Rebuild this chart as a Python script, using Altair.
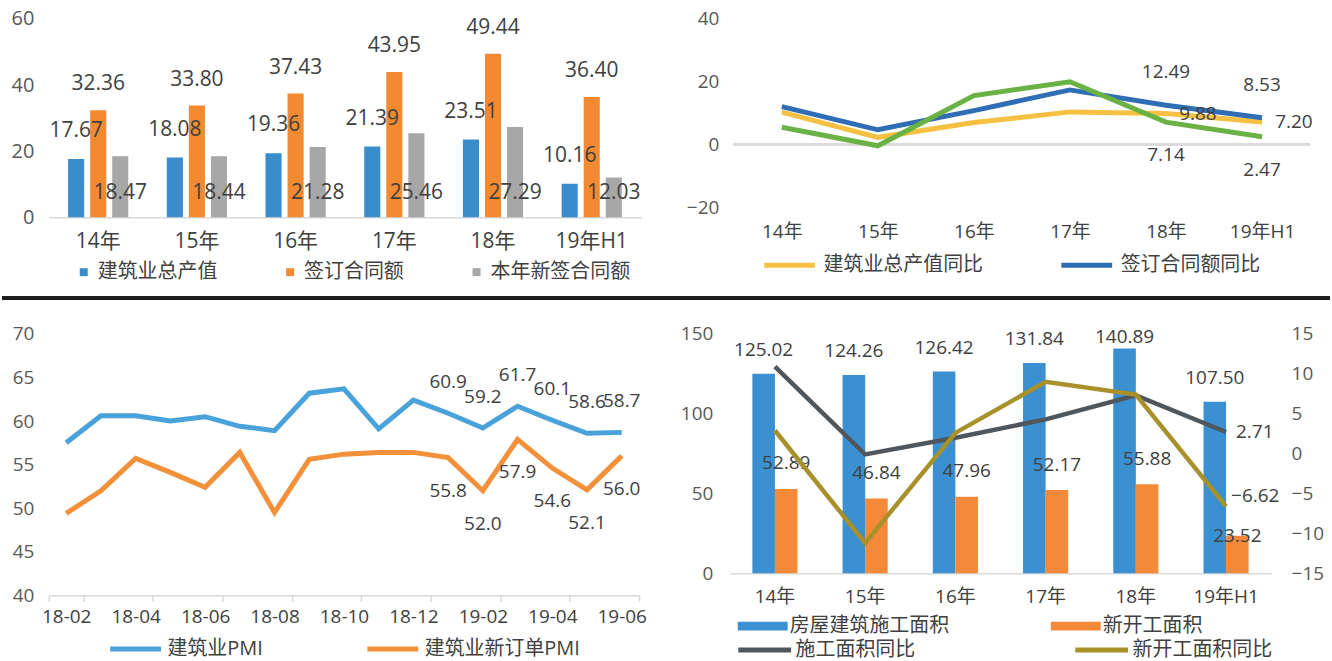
import altair as alt
import pandas as pd

FONT = "Open Sans, Noto Sans CJK SC, sans-serif"
TXT = "#404040"
AXC = "#595959"
LINEC = "#D9D9D9"

# ---------------- data ----------------
years = ["14年", "15年", "16年", "17年", "18年", "19年H1"]

# top-left: bars (万亿元)
tl_series = ["建筑业总产值", "签订合同额", "本年新签合同额"]
tl_colors = ["#3A8DCB", "#F28A32", "#A7A7A7"]
gross_output = [17.67, 18.08, 19.36, 21.39, 23.51, 10.16]
contract_amount = [32.36, 33.80, 37.43, 43.95, 49.44, 36.40]
new_contract_amount = [18.47, 18.44, 21.28, 25.46, 27.29, 12.03]

# top-right: yoy lines (%)
tr_series = ["建筑业总产值同比", "签订合同额同比", "本年新签合同额同比"]
tr_colors = ["#F6C143", "#2F6EB5", "#6AB245"]
gross_output_yoy = [10.3, 2.3, 7.0, 10.4, 9.88, 7.20]
contract_yoy = [12.1, 4.7, 10.8, 17.4, 12.49, 8.53]
new_contract_yoy = [5.5, -0.4, 15.6, 20.0, 7.14, 2.47]

# bottom-left: PMI
months = ["18-02", "18-03", "18-04", "18-05", "18-06", "18-07", "18-08", "18-09",
          "18-10", "18-11", "18-12", "19-01", "19-02", "19-03", "19-04", "19-05", "19-06"]
bl_series = ["建筑业PMI", "建筑业新订单PMI"]
bl_colors = ["#4AA2DA", "#F3903A"]
construction_pmi = [57.5, 60.6, 60.6, 60.0, 60.5, 59.4, 58.9, 63.2, 63.7, 59.1, 62.4,
                    60.9, 59.2, 61.7, 60.1, 58.6, 58.7]
new_order_pmi = [49.4, 52.0, 55.7, 54.1, 52.4, 56.4, 49.5, 55.6, 56.2, 56.4, 56.4,
                 55.8, 52.0, 57.9, 54.6, 52.1, 56.0]
bl_labeled = months[11:]

# bottom-right: floor area (亿平方米) and yoy (%)
br_bar_series = ["房屋建筑施工面积", "新开工面积"]
br_bar_colors = ["#3A90D0", "#F5893A"]
construction_area = [125.02, 124.26, 126.42, 131.84, 140.89, 107.50]
new_start_area = [52.89, 46.84, 47.96, 52.17, 55.88, 23.52]
br_line_series = ["施工面积同比", "新开工面积同比"]
br_line_colors = ["#50575C", "#A8912B"]
construction_area_yoy = [10.9, -0.1, 2.0, 4.3, 7.3, 2.71]
new_start_area_yoy = [2.9, -11.2, 2.6, 9.0, 7.4, -6.62]

labeled_years = ["18年", "19年H1"]


def long_df(cats, cat_name, series, values):
    rows = []
    for s, vals in zip(series, values):
        for c, v in zip(cats, vals):
            rows.append({cat_name: c, "series": s, "value": v})
    return pd.DataFrame(rows)


tl_df = long_df(years, "year", tl_series, [gross_output, contract_amount, new_contract_amount])
tr_df = long_df(years, "year", tr_series, [gross_output_yoy, contract_yoy, new_contract_yoy])
bl_df = long_df(months, "month", bl_series, [construction_pmi, new_order_pmi])
br_bar_df = long_df(years, "year", br_bar_series, [construction_area, new_start_area])
br_line_df = long_df(years, "year", br_line_series, [construction_area_yoy, new_start_area_yoy])

# ---------------- top-left ----------------
tl_x = alt.X("year:N", sort=years,
             scale=alt.Scale(domain=years, paddingInner=0.39, paddingOuter=0.195),
             axis=alt.Axis(title=None, labelAngle=0, ticks=False, domainColor=LINEC,
                           domainWidth=1.5, labelPadding=13, labelFontSize=21,
                           labelColor=TXT))
tl_xo = alt.XOffset("series:N", scale=alt.Scale(domain=tl_series, paddingInner=0.27,
                                                paddingOuter=0))
tl_yscale = alt.Scale(domain=[0, 60], nice=False)
tl_yaxis = alt.Axis(title=None, values=[0, 20, 40, 60], grid=False, domain=False,
                    ticks=False, labelPadding=15, minExtent=47, maxExtent=47,
                    labelFontSize=20, labelColor=AXC)
tl_y = alt.Y("value:Q", scale=tl_yscale, axis=tl_yaxis)

tl_base = alt.Chart(tl_df)
tl_bars = tl_base.mark_bar().encode(
    x=tl_x, xOffset=tl_xo, y=tl_y,
    color=alt.Color("series:N", scale=alt.Scale(domain=tl_series, range=tl_colors),
                    legend=alt.Legend(title=None, orient="none", legendX=25, legendY=244,
                                      direction="horizontal", symbolType="square",
                                      symbolSize=64, symbolStrokeWidth=0,
                                      labelFontSize=20, labelColor=TXT, labelOffset=4,
                                      columnPadding=63, padding=0)))
tl_text = alt.Text("value:Q", format=".2f")
tl_lab0 = tl_base.transform_filter(alt.datum.series == tl_series[0]).mark_text(
    dy=-28, fontSize=21, color=TXT).encode(x=tl_x, xOffset=tl_xo, y=tl_y, text=tl_text)
tl_lab1 = tl_base.transform_filter(alt.datum.series == tl_series[1]).mark_text(
    dy=-26, fontSize=21, color=TXT).encode(x=tl_x, xOffset=tl_xo, y=tl_y, text=tl_text)
tl_lab2 = tl_base.transform_filter(alt.datum.series == tl_series[2]).transform_calculate(
    label_y="7.5").mark_text(fontSize=21, color=TXT).encode(
    x=tl_x, xOffset=tl_xo, y=alt.Y("label_y:Q", scale=tl_yscale, axis=tl_yaxis), text=tl_text)
tl = alt.layer(tl_bars, tl_lab0, tl_lab1, tl_lab2).properties(width=594, height=199)

# ---------------- top-right ----------------
tr_x = alt.X("year:N", sort=years,
             scale=alt.Scale(type="point", domain=years, padding=0.5),
             axis=alt.Axis(title=None, labelAngle=0, ticks=False, domain=False,
                           labelPadding=15, labelFontSize=19, labelColor=TXT))
tr_y = alt.Y("value:Q", scale=alt.Scale(domain=[-20, 40], nice=False),
             axis=alt.Axis(title=None, values=[-20, 0, 20, 40], grid=False, domain=False,
                           ticks=False, labelPadding=15, minExtent=93, maxExtent=93,
                           labelFontSize=19, labelColor=AXC))
tr_base = alt.Chart(tr_df)
tr_zero = tr_base.mark_rule(color=LINEC, strokeWidth=1.5).encode(y=alt.datum(0))
tr_lines = tr_base.mark_line(strokeWidth=5).encode(
    x=tr_x, y=tr_y,
    color=alt.Color("series:N", sort=tr_series,
                    scale=alt.Scale(domain=tr_series, range=tr_colors),
                    legend=alt.Legend(title=None, orient="none", legendX=28, legendY=219,
                                      direction="horizontal", values=tr_series[:2],
                                      symbolType="stroke", symbolSize=2601,
                                      symbolStrokeWidth=5, labelFontSize=20,
                                      labelColor=TXT, labelOffset=6, columnPadding=68,
                                      padding=0)))
tr_text = alt.Text("value:Q", format=".2f")
yr_filter = alt.FieldOneOfPredicate(field="year", oneOf=labeled_years)
tr_lab_blue = tr_base.transform_filter(yr_filter).transform_filter(
    alt.datum.series == tr_series[1]).mark_text(dy=-33, fontSize=19, color=TXT).encode(
    x=tr_x, y=tr_y, text=tr_text)
tr_lab_yellow = tr_base.transform_filter(yr_filter).transform_filter(
    alt.datum.series == tr_series[0]).mark_text(dx=32, fontSize=19, color=TXT).encode(
    x=tr_x, y=tr_y, text=tr_text)
tr_lab_green = tr_base.transform_filter(yr_filter).transform_filter(
    alt.datum.series == tr_series[2]).mark_text(dy=33, fontSize=19, color=TXT).encode(
    x=tr_x, y=tr_y, text=tr_text)
tr = alt.layer(tr_zero, tr_lines, tr_lab_blue, tr_lab_yellow, tr_lab_green).properties(
    width=578, height=189)

# ---------------- bottom-left ----------------
bl_x = alt.X("month:N", sort=months,
             scale=alt.Scale(type="band", domain=months, paddingInner=0, paddingOuter=0),
             axis=alt.Axis(title=None, labelAngle=0, values=months[::2], tickBand="extent",
                           ticks=True, tickSize=6, tickColor=LINEC, tickWidth=1.5,
                           domainColor=LINEC, domainWidth=1.5, labelPadding=6,
                           labelFontSize=19, labelColor=TXT))
bl_y = alt.Y("value:Q", scale=alt.Scale(domain=[40, 70], nice=False),
             axis=alt.Axis(title=None, values=[40, 45, 50, 55, 60, 65, 70], grid=False,
                           domain=False, ticks=False, labelPadding=15, minExtent=47,
                           maxExtent=47, labelFontSize=19, labelColor=AXC))
bl_base = alt.Chart(bl_df)
bl_lines = bl_base.mark_line(strokeWidth=5).encode(
    x=bl_x, y=bl_y,
    color=alt.Color("series:N", sort=bl_series,
                    scale=alt.Scale(domain=bl_series, range=bl_colors),
                    legend=alt.Legend(title=None, orient="none", legendX=59, legendY=288,
                                      direction="horizontal", symbolType="stroke",
                                      symbolSize=2601, symbolStrokeWidth=5,
                                      labelFontSize=20, labelColor=TXT, labelOffset=4,
                                      columnPadding=94, padding=0)))
bl_text = alt.Text("value:Q", format=".1f")
m_filter = alt.FieldOneOfPredicate(field="month", oneOf=bl_labeled)
bl_lab0 = bl_base.transform_filter(m_filter).transform_filter(
    alt.datum.series == bl_series[0]).mark_text(dy=-31, fontSize=19, color=TXT).encode(
    x=bl_x, y=bl_y, text=bl_text)
bl_lab1 = bl_base.transform_filter(m_filter).transform_filter(
    alt.datum.series == bl_series[1]).mark_text(dy=33, fontSize=19, color=TXT).encode(
    x=bl_x, y=bl_y, text=bl_text)
bl = alt.layer(bl_lines, bl_lab0, bl_lab1).properties(width=592, height=262)

# ---------------- bottom-right ----------------
br_x = alt.X("year:N", sort=years,
             scale=alt.Scale(domain=years, paddingInner=0.5, paddingOuter=0.25),
             axis=alt.Axis(title=None, labelAngle=0, ticks=False, domainColor=LINEC,
                           domainWidth=1.5, labelPadding=14, labelFontSize=19,
                           labelColor=TXT))
br_xo = alt.XOffset("series:N", scale=alt.Scale(domain=br_bar_series, paddingInner=0,
                                                paddingOuter=0))
br_yl_scale = alt.Scale(domain=[0, 150], nice=False)
br_yl_axis = alt.Axis(title=None, orient="left", values=[0, 50, 100, 150], grid=False,
                      domain=False, ticks=False, labelPadding=17, minExtent=83,
                      maxExtent=83, labelFontSize=19, labelColor=AXC)
br_yr_scale = alt.Scale(domain=[-15, 15], nice=False)
br_yr_axis = alt.Axis(title=None, orient="right", values=[-15, -10, -5, 0, 5, 10, 15],
                      grid=False, domain=False, ticks=False, labelPadding=20,
                      labelFontSize=19, labelColor=AXC)
br_bar_base = alt.Chart(br_bar_df)
br_bars = br_bar_base.mark_bar().encode(
    x=br_x, xOffset=br_xo, y=alt.Y("value:Q", scale=br_yl_scale, axis=br_yl_axis),
    color=alt.Color("series:N", sort=br_bar_series,
                    scale=alt.Scale(domain=br_bar_series, range=br_bar_colors),
                    legend=alt.Legend(title=None, orient="none", legendX=8, legendY=268,
                                      direction="horizontal",
                                      symbolType="M-1,-0.18H1V0.18H-1Z", symbolSize=2500,
                                      symbolStrokeWidth=0, labelFontSize=20,
                                      labelColor=TXT, labelOffset=2, columnPadding=102,
                                      padding=0)))
br_text2 = alt.Text("value:Q", format=".2f")
br_lab_blue = br_bar_base.transform_filter(alt.datum.series == br_bar_series[0]).transform_calculate(
    label_y="min(datum.value + 15, 148)").mark_text(fontSize=19, color=TXT).encode(
    x=br_x, xOffset=br_xo, y=alt.Y("label_y:Q", scale=br_yl_scale, axis=br_yl_axis),
    text=br_text2)
br_lab_orange = br_bar_base.transform_filter(alt.datum.series == br_bar_series[1]).transform_calculate(
    label_y="datum.value > 30 ? datum.value + 16 : datum.value").mark_text(
    fontSize=19, color=TXT).encode(
    x=br_x, xOffset=br_xo, y=alt.Y("label_y:Q", scale=br_yl_scale, axis=br_yl_axis),
    text=br_text2)
left_layer = alt.layer(br_bars, br_lab_blue, br_lab_orange)

br_line_base = alt.Chart(br_line_df)
br_yr = alt.Y("value:Q", scale=br_yr_scale, axis=br_yr_axis)
br_lines = br_line_base.mark_line(strokeWidth=4.5).encode(
    x=br_x, y=br_yr,
    stroke=alt.Stroke("series:N", sort=br_line_series,
                      scale=alt.Scale(domain=br_line_series, range=br_line_colors),
                      legend=alt.Legend(title=None, orient="none", legendX=6, legendY=288,
                                        direction="horizontal", symbolType="stroke",
                                        symbolSize=2809, symbolStrokeWidth=5,
                                        labelFontSize=20, labelColor=TXT, labelOffset=2,
                                        columnPadding=150, padding=0)))
last_filter = alt.datum.year == years[-1]
br_lab_gray = br_line_base.transform_filter(last_filter).transform_filter(
    alt.datum.series == br_line_series[0]).mark_text(
    align="left", dx=10, fontSize=19, color=TXT).encode(x=br_x, y=br_yr, text=br_text2)
br_lab_olive = br_line_base.transform_filter(last_filter).transform_filter(
    alt.datum.series == br_line_series[1]).mark_text(
    align="left", dx=5, dy=-10, fontSize=19, color=TXT).encode(x=br_x, y=br_yr, text=br_text2)
right_layer = alt.layer(br_lines, br_lab_gray, br_lab_olive)

br = alt.layer(left_layer, right_layer).resolve_scale(
    y="independent").properties(width=543, height=240)

# ---------------- separator ----------------
sep = alt.Chart(pd.DataFrame({"k": [0]})).mark_rule(color="#1E1E1E", strokeWidth=4).encode(
    x=alt.value(-47), x2=alt.value(1285), y=alt.value(16)).properties(width=1200, height=43)

IND = dict(color="independent", stroke="independent")
SIND = dict(color="independent", stroke="independent", xOffset="independent")
row1 = alt.hconcat(tl, tr, spacing=0).resolve_scale(**SIND).resolve_legend(**IND)
row2 = alt.hconcat(bl, br, spacing=0).resolve_scale(**SIND).resolve_legend(**IND)

chart = alt.vconcat(row1, sep, row2, spacing=0).resolve_scale(**SIND).resolve_legend(
    **IND).properties(
    padding={"top": 8, "left": 0, "right": 0, "bottom": 0},
    background="white",
).configure(font=FONT).configure_view(stroke=None)

chart.save("out.html", embed_options={"renderer": "svg", "actions": False})
